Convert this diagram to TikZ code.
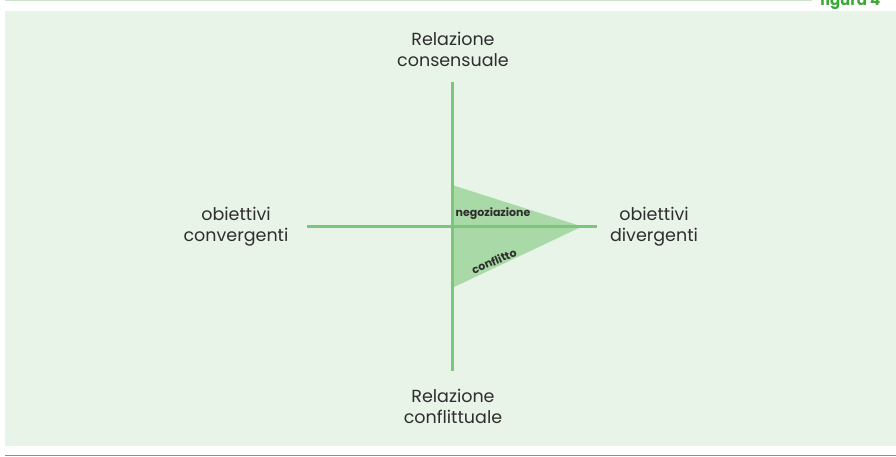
\documentclass[tikz,border=0pt]{standalone}
\usepackage{fontspec}
\setmainfont{Poppins}
\definecolor{panel}{HTML}{E9F4E9}
\definecolor{axis}{HTML}{7CC67C}
\definecolor{wedge}{HTML}{A9D9A6}
\definecolor{rule}{HTML}{55B455}
\definecolor{toprule}{HTML}{C9E7C7}
\definecolor{ink}{HTML}{2E2E2E}
\definecolor{title}{HTML}{3AAA35}
\begin{document}
\begin{tikzpicture}[x=1pt,y=-1pt,
  lbl/.style={font=\fontsize{17.5}{21}\selectfont, text=ink, align=center, inner sep=0pt},
  zone/.style={font=\bfseries\fontsize{11}{13}\selectfont, text=ink, inner sep=0pt},
  axisline/.style={draw=axis, line width=3pt}]
\useasboundingbox (0,0) rectangle (896,457);
% background panel and frame rules
\fill[panel] (5,11) rectangle (896,446);
\draw[toprule, line width=1.2pt] (5,0.6) -- (812,0.6);
\draw[rule, line width=1.6pt] (5,455.5) -- (896,455.5);
\node[anchor=base west, font=\bfseries\fontsize{15}{18}\selectfont, text=title, inner sep=0pt] (fig) at (820,5.5) {figura 4};
% shaded wedge
\coordinate (wt) at (452,185);
\coordinate (wa) at (582,226.5);
\coordinate (wb) at (452,288);
\fill[wedge] (wt) -- (wa) -- (wb) -- cycle;
% axes
\coordinate (vt) at (452,82);
\coordinate (vb) at (452,371);
\coordinate (hl) at (307,226.5);
\coordinate (hr) at (597,226.5);
\draw[axisline] (vt) -- (vb);
\draw[axisline] (hl) -- (hr);
% axis labels
\node[lbl] (top) at (453,49) {Relazione\\consensuale};
\node[lbl] (bot) at (453,406) {Relazione\\conflittuale};
\node[lbl] (left) at (236,227) {obiettivi\\convergenti};
\node[lbl] (right) at (654,227) {obiettivi\\divergenti};
% zone labels
\node[zone] (neg) at (493,214) {negoziazione};
\node[zone, rotate=23] (conf) at (494,261) {conflitto};
\end{tikzpicture}
\end{document}
